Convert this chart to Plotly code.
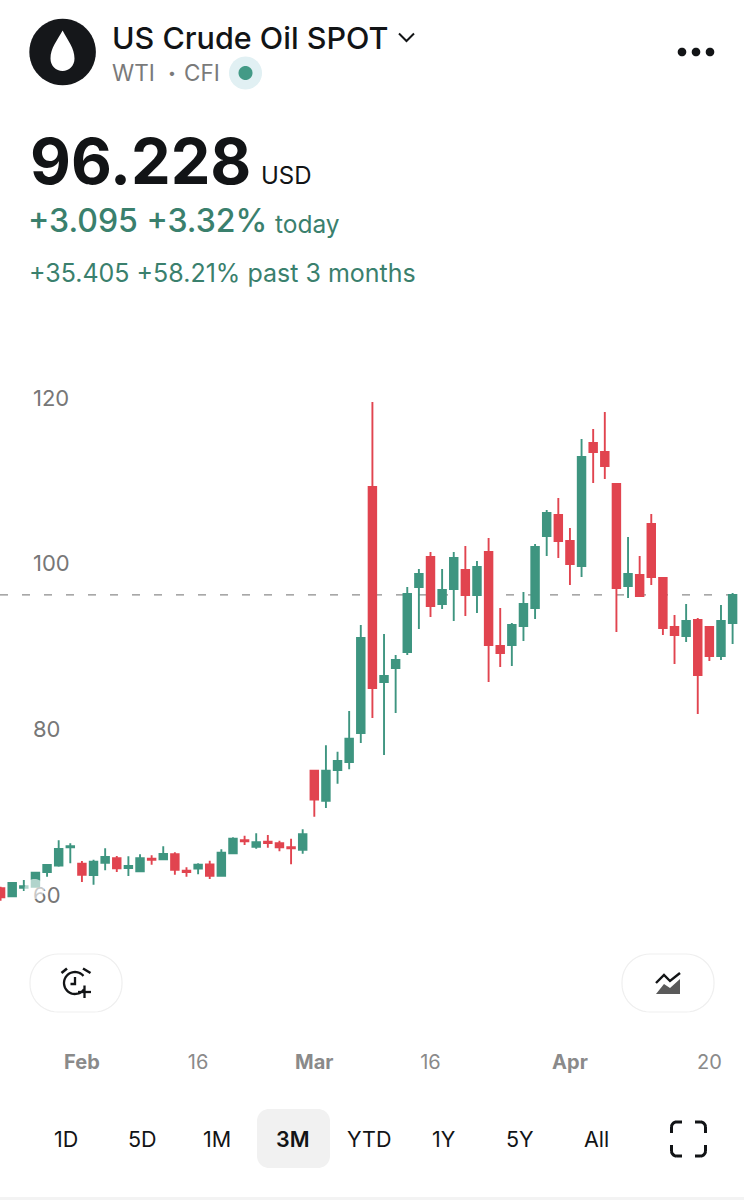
import math
import pandas as pd
import plotly.graph_objects as go

# 1. Data (daily WTI candles, Jan 22 - Apr 22, no Apr 3)
dates = [d.strftime('%Y-%m-%d') for d in pd.bdate_range('2026-01-22', '2026-04-22') if d.strftime('%m-%d') != '04-03']

opens = [60.81, 59.84, 60.88, 61.00, 62.78, 63.54, 65.76, 63.78, 62.41, 63.90, 64.43, 63.26, 62.86, 64.38, 64.31, 64.91,
         62.93, 63.18, 63.70, 62.33, 65.03, 66.60, 65.83, 66.44, 66.24, 65.76, 65.47, 75.01, 71.38, 75.09, 76.06, 79.56,
         109.26, 85.71, 87.41, 89.34, 97.18, 100.81, 95.13, 96.94, 99.24, 96.22, 101.41, 90.06, 90.18, 92.48, 94.65, 103.34,
         105.88, 102.74, 99.72, 114.57, 113.48, 109.62, 97.31, 98.63, 104.79, 98.27, 92.36, 91.27, 93.20, 92.36, 88.85, 92.84]
highs = [61.00, 61.53, 61.81, 62.78, 63.70, 66.60, 66.24, 64.10, 64.26, 65.64, 64.71, 64.67, 64.91, 64.79, 65.88, 65.15,
         63.34, 63.83, 64.14, 65.52, 66.97, 67.16, 67.45, 67.24, 66.56, 66.80, 67.93, 75.07, 78.07, 77.30, 82.21, 92.60,
         119.52, 91.51, 88.97, 97.18, 99.36, 101.41, 99.36, 101.41, 102.13, 100.32, 103.10, 94.65, 92.84, 96.58, 102.38, 106.48,
         107.93, 104.31, 115.05, 116.26, 118.31, 109.74, 103.22, 100.93, 106.00, 98.39, 93.80, 95.13, 93.44, 92.48, 95.01, 96.46]
lows = [59.31, 59.80, 60.48, 60.93, 62.21, 63.42, 63.83, 61.57, 61.24, 62.98, 62.78, 62.29, 62.78, 63.66, 64.26, 62.45,
        62.21, 62.50, 61.93, 62.29, 64.99, 66.04, 65.59, 65.71, 65.28, 63.70, 64.99, 69.45, 70.50, 73.44, 75.18, 78.35,
        81.37, 76.90, 81.97, 88.97, 92.11, 93.56, 94.53, 93.08, 93.68, 94.05, 85.71, 87.53, 87.65, 90.67, 93.32, 100.93,
        100.69, 97.43, 98.39, 109.74, 110.22, 91.75, 95.86, 95.98, 97.43, 91.39, 87.89, 90.54, 81.85, 88.25, 88.37, 90.30]
closes = [59.72, 61.45, 61.05, 62.69, 63.62, 65.55, 65.88, 62.45, 64.02, 64.59, 63.22, 63.50, 64.43, 64.26, 64.95, 63.05,
          62.78, 63.66, 62.33, 65.11, 66.80, 66.48, 66.36, 66.28, 65.76, 65.64, 67.33, 71.51, 75.01, 76.18, 78.87, 91.03,
          84.99, 86.44, 88.37, 96.34, 98.75, 94.89, 96.82, 100.69, 96.22, 99.60, 90.18, 89.22, 92.60, 95.13, 102.01, 106.12,
          102.74, 99.96, 112.88, 113.48, 111.79, 97.06, 98.75, 96.10, 98.39, 92.23, 91.39, 93.08, 86.56, 88.85, 93.08, 96.23]

y_ticks = [60, 80, 100, 120]
x_tick_dates = ['2026-02-02', '2026-02-16', '2026-03-02', '2026-03-16', '2026-04-01', '2026-04-20']
x_tick_labels = ['<b>Feb</b>', '16', '<b>Mar</b>', '16', '<b>Apr</b>', '20']
range_labels = ['1D', '5D', '1M', '3M', 'YTD', '1Y', '5Y', 'All']

GREEN = '#3e9580'
RED = '#e1444f'
TEXT_GREEN = '#3a806d'
INK = '#121416'
GREY = '#7a7a7a'
FONT = 'Inter'

W, H = 744, 1200


# page pixels -> paper coords, the header and buttons are laid out in pixels
def pt(x, y):
    return f'{x / W:.5f},{1 - y / H:.5f}'


def poly(points, close=False):
    path = 'M' + ' L'.join(pt(x, y) for x, y in points)
    return path + (' Z' if close else '')


def arc(cx, cy, r, a0, a1, n=40):
    return [(cx + r * math.cos(math.radians(a0 + (a1 - a0) * i / n)),
             cy + r * math.sin(math.radians(a0 + (a1 - a0) * i / n))) for i in range(n + 1)]


def round_rect(x0, y0, x1, y1, r):
    pts = arc(x1 - r, y0 + r, r, -90, 0, 12) + arc(x1 - r, y1 - r, r, 0, 90, 12) \
        + arc(x0 + r, y1 - r, r, 90, 180, 12) + arc(x0 + r, y0 + r, r, 180, 270, 12)
    return poly(pts, close=True)


def shape(path, fill=None, line=None, width=0, layer='above'):
    return dict(type='path', xref='paper', yref='paper', path=path, layer=layer,
                fillcolor=fill or 'rgba(0,0,0,0)',
                line=dict(color=line or 'rgba(0,0,0,0)', width=width))


def circle(cx, cy, r, fill):
    return shape(poly(arc(cx, cy, r, 0, 360, 48), close=True), fill=fill)


def label(x, y, text, size, color, anchor='left', weight=400):
    return dict(x=x / W, y=1 - y / H, xref='paper', yref='paper', text=text, showarrow=False,
                xanchor=anchor, yanchor='middle',
                font=dict(family=FONT, size=size, color=color, weight=weight))


# 2. Candles
fig = go.Figure(go.Candlestick(
    x=dates, open=opens, high=highs, low=lows, close=closes,
    increasing=dict(line=dict(color=GREEN, width=1.9), fillcolor=GREEN),
    decreasing=dict(line=dict(color=RED, width=1.9), fillcolor=RED),
    whiskerwidth=0,
    hoverinfo='skip',
))

# 3. Header text
annotations = [
    label(110, 37, 'US Crude Oil SPOT', 30.5, INK, weight=500),
    label(110, 73, 'WTI', 22.5, GREY),
    label(172, 73, '•', 14, GREY, anchor='center'),
    label(182, 73, 'CFI', 22.5, GREY),
    label(28, 161, '96.228', 63, INK, weight=700),
    label(259, 175, 'USD', 24, INK),
    label(26, 220, '+3.095 +3.32%', 32, TEXT_GREEN, weight=500),
    label(273, 224, 'today', 24.5, TEXT_GREEN),
    label(27, 273, '+35.405 +58.21% past 3 months', 25, TEXT_GREEN),
]

# range selector row
range_x = [66, 142, 217, 293, 369, 444, 520, 596]
for rx, txt in zip(range_x, range_labels):
    annotations.append(label(rx, 1139, txt, 21.5, INK, anchor='center', weight=600 if txt == '3M' else 400))

# 4. Icons and buttons
shapes = [
    dict(type='line', xref='paper', yref='y', x0=0, x1=1, y0=closes[-1], y1=closes[-1], layer='below',
         line=dict(color='#8c8c8c', width=1.2, dash='8px,14px')),
    # pale patch behind the 60 label
    circle(34.5, 889, 10, 'rgba(255,255,255,0.6)'),
    # logo
    circle(62.6, 52, 33.3, '#15171a'),
    shape('M' + pt(62.6, 30.5) + ' C' + pt(57, 41) + ' ' + pt(50.5, 48) + ' ' + pt(50.5, 58.5)
          + ' C' + pt(50.5, 66) + ' ' + pt(56, 71) + ' ' + pt(62.6, 71)
          + ' C' + pt(69, 71) + ' ' + pt(74.5, 66) + ' ' + pt(74.5, 58.5)
          + ' C' + pt(74.5, 48) + ' ' + pt(68, 41) + ' ' + pt(62.6, 30.5) + ' Z', fill='#ffffff'),
    # chevron
    shape(poly([(399, 33.5), (406.5, 41), (414, 33.5)]), line=INK, width=2),
    # status dot
    circle(245.5, 73, 16.5, '#e1f0f3'),
    circle(245.5, 73, 7, '#439a86'),
    # menu dots
    circle(682, 52, 4.3, INK), circle(696, 52, 4.3, INK), circle(710, 52, 4.3, INK),
    # alarm button
    shape(round_rect(30, 954, 122, 1012, 28), fill='#ffffff', line='#efefef', width=1.2),
    shape(poly(arc(75, 983, 11, 35, 320)), line=INK, width=2.3),
    shape(poly([(75, 977), (75, 984), (70.5, 984)]), line=INK, width=2.3),
    shape(poly([(61.5, 973), (67, 968.5)]), line=INK, width=2.6),
    shape(poly([(83, 968.5), (90.5, 973)]), line=INK, width=2.6),
    shape(poly([(78, 992), (91, 992)]), line=INK, width=2.3),
    shape(poly([(84.5, 985.5), (84.5, 998)]), line=INK, width=2.3),
    # indicator button
    shape(round_rect(622, 954, 714, 1012, 28), fill='#ffffff', line='#efefef', width=1.2),
    shape(poly([(656, 983), (664, 975), (670, 981), (680, 973)]), line=INK, width=2.4),
    shape(poly([(656, 994), (664, 984), (670, 988), (680, 979), (680, 994)], close=True), fill='#5a5a5a'),
    # selected range
    shape(round_rect(257, 1109, 330, 1168, 12), fill='#f1f1f1', layer='below'),
    # fullscreen corners
    shape(poly(arc(676.5, 1127, 5, 180, 270, 8) + [(682, 1122)]) + ' M' + pt(671.5, 1127) + ' L' + pt(671.5, 1133), line=INK, width=3),
    shape(poly(arc(700.5, 1127, 5, 270, 360, 8)) + ' M' + pt(695, 1122) + ' L' + pt(700.5, 1122) + ' M' + pt(705.5, 1127) + ' L' + pt(705.5, 1133), line=INK, width=3),
    shape(poly(arc(676.5, 1151, 5, 90, 180, 8)) + ' M' + pt(671.5, 1151) + ' L' + pt(671.5, 1145) + ' M' + pt(676.5, 1156) + ' L' + pt(682, 1156), line=INK, width=3),
    shape(poly(arc(700.5, 1151, 5, 0, 90, 8)) + ' M' + pt(705.5, 1151) + ' L' + pt(705.5, 1145) + ' M' + pt(700.5, 1156) + ' L' + pt(695, 1156), line=INK, width=3),
    # strip along the bottom edge
    shape(poly([(0, 1197), (W, 1197), (W, H), (0, H)], close=True), fill='#f3f3f3'),
]

# 5. Layout: 11.62 px per candle, 8.283 px per dollar
fig.update_layout(
    width=W, height=H,
    margin=dict(l=0, r=0, t=0, b=0),
    paper_bgcolor='white', plot_bgcolor='white',
    showlegend=False,
    hovermode=False,
    boxgap=0.35,
    boxgroupgap=0,
    font=dict(family=FONT),
    annotations=annotations,
    shapes=shapes,
    xaxis=dict(
        type='category', range=[-0.05, 63.98], rangeslider=dict(visible=False),
        tickmode='array', tickvals=x_tick_dates, ticktext=x_tick_labels,
        tickfont=dict(family=FONT, size=20, color='#8a8a8a'),
        showgrid=False, zeroline=False, showline=False, ticks='', ticklabelstandoff=3,
    ),
    yaxis=dict(
        domain=[1 - 1045 / H, 1 - 330 / H], range=[41.89, 128.21],
        tickmode='array', tickvals=y_ticks,
        tickfont=dict(family=FONT, size=22, color='#777777'),
        ticklabelposition='inside', ticklabelstandoff=30,
        showgrid=False, zeroline=False, showline=False, ticks='',
    ),
)

fig.write_html('out.html', config=dict(displayModeBar=False),
               post_script="document.body.style.margin='0';")
